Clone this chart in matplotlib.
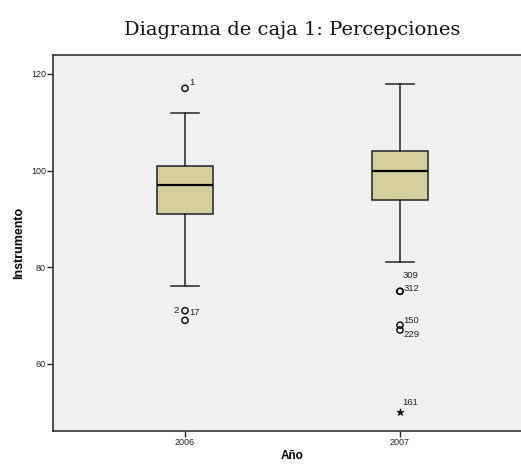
import numpy as np
import matplotlib
matplotlib.use('Agg')
from matplotlib import pyplot as plt

# datos
anios = ['2006', '2007']
q1 = [91, 94]
mediana = [97, 100]
q3 = [101, 104]
bigote_inf = [76, 81]
bigote_sup = [112, 118]

# atipicos: (grupo, valor, etiqueta)
atip_grupo = [0, 0, 0, 1, 1, 1, 1]
atip_valor = [117, 71, 69, 75, 75, 68, 67]
atip_etiq = ['1', '17', '2', '309', '312', '150', '229']
# extremos
ext_grupo = [1]
ext_valor = [50]
ext_etiq = ['161']

plt.rcParams['font.family'] = ['Liberation Sans', 'DejaVu Sans']

fig = plt.figure(figsize=(5.21, 4.65), dpi=100)
ax = fig.add_axes([53/521, 1-431/465, 479/521, 376/465])
ax.set_facecolor('#f0f0f0')

stats = []
for i in range(len(anios)):
    stats.append({'med': mediana[i], 'q1': q1[i], 'q3': q3[i],
                  'whislo': bigote_inf[i], 'whishi': bigote_sup[i],
                  'fliers': [], 'label': anios[i]})
pos = np.arange(1, len(anios)+1)
ax.bxp(stats, positions=pos, widths=0.256, patch_artist=True,
       boxprops=dict(facecolor='#d4cf9c', edgecolor='#222222', linewidth=1.1),
       medianprops=dict(color='black', linewidth=1.6),
       whiskerprops=dict(color='#222222', linewidth=1.1),
       capprops=dict(color='#222222', linewidth=1.1),
       capwidths=0.128, showfliers=False)

xs = pos[np.array(atip_grupo)]
ax.scatter(xs, atip_valor, s=20, facecolors='none', edgecolors='black',
           linewidths=1.0, zorder=5)
ax.scatter(pos[np.array(ext_grupo)], ext_valor, marker='*', s=28,
           color='black', linewidths=0.4, zorder=5)

# desplazamientos de etiquetas en puntos
desp = {'1': (3, 4), '17': (3, -1), '2': (-8, 7), '309': (2, 11.5),
        '312': (2.5, 2), '150': (2.5, 3.5), '229': (2.5, -3)}
for g, v, t in zip(atip_grupo, atip_valor, atip_etiq):
    ax.annotate(t, (pos[g], v), xytext=desp[t], textcoords='offset points',
                fontsize=6.8, color='#222222', va='center', ha='left')
for g, v, t in zip(ext_grupo, ext_valor, ext_etiq):
    ax.annotate(t, (pos[g], v), xytext=(2, 7), textcoords='offset points',
                fontsize=6.8, color='#222222', va='center', ha='left')

ax.set_xlim(0.386, 2.614)
ax.set_ylim(46.1, 123.9)
ax.set_yticks([60, 80, 100, 120])
ax.set_xticks(pos)
ax.set_xticklabels(anios)
ax.tick_params(axis='both', labelsize=6.5, colors='#222222', length=4, width=1, pad=1)
ax.tick_params(axis='x', length=4, pad=1)
for s in ax.spines.values():
    s.set_color('#333333')
    s.set_linewidth(1.2)

ax.set_ylabel('Instrumento', fontsize=9, fontweight='bold', labelpad=4)
ax.set_xlabel('Año', fontsize=8.5, fontweight='bold', labelpad=2)

fig.text(292/521, 1-30/465, 'Diagrama de caja 1: Percepciones', ha='center', va='center',
         fontsize=14, family='DejaVu Serif', color='#111111')

fig.savefig('out.png', dpi=100)
